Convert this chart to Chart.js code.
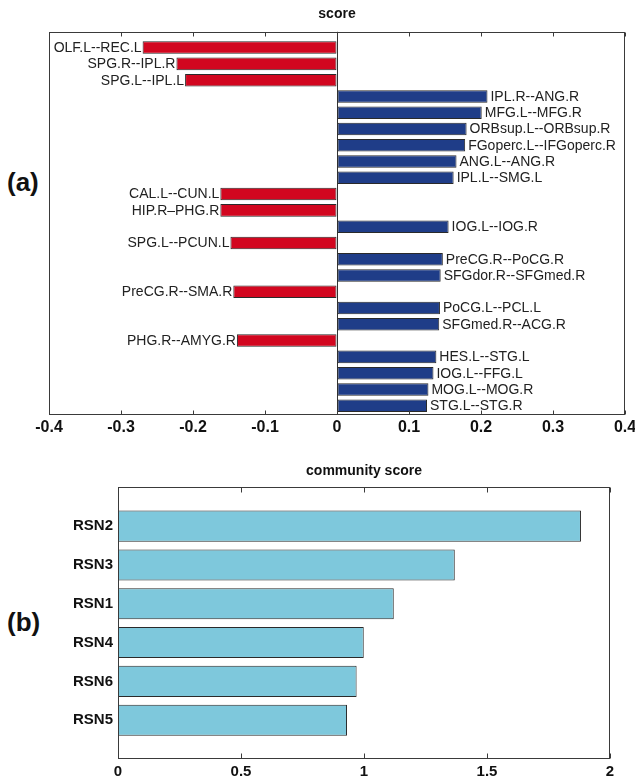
<!DOCTYPE html>
<html>
<head>
<meta charset="utf-8">
<script src="https://cdn.jsdelivr.net/npm/chart.js@4/dist/chart.umd.min.js"></script>
<style>
  html, body { margin: 0; padding: 0; background: #ffffff; }
  body { width: 635px; height: 780px; position: relative; overflow: hidden;
         font-family: 'Liberation Sans', Arial, sans-serif; }
  .panel { position: absolute; font-weight: bold; font-size: 26px; line-height: 26px; color: #111; }
  canvas { position: absolute; left: 0; }
</style>
</head>
<body>
<div class="panel" style="left:7px; top:169px;">(a)</div>
<div class="panel" style="left:7px; top:609px;">(b)</div>
<canvas id="chartA" width="635" height="450" style="top:0px;"></canvas>
<canvas id="chartB" width="635" height="325" style="top:455px;"></canvas>
<script>
// ---- panel (a): connection scores ----
const connections = [
  'OLF.L--REC.L', 'SPG.R--IPL.R', 'SPG.L--IPL.L', 'IPL.R--ANG.R', 'MFG.L--MFG.R',
  'ORBsup.L--ORBsup.R', 'FGoperc.L--IFGoperc.R', 'ANG.L--ANG.R', 'IPL.L--SMG.L',
  'CAL.L--CUN.L', 'HIP.R\u2013PHG.R', 'IOG.L--IOG.R', 'SPG.L--PCUN.L', 'PreCG.R--PoCG.R',
  'SFGdor.R--SFGmed.R', 'PreCG.R--SMA.R', 'PoCG.L--PCL.L', 'SFGmed.R--ACG.R',
  'PHG.R--AMYG.R', 'HES.L--STG.L', 'IOG.L--FFG.L', 'MOG.L--MOG.R', 'STG.L--STG.R'
];
const connectionScores = [
  -0.270, -0.223, -0.211, 0.209, 0.201,
  0.180, 0.178, 0.166, 0.162,
  -0.162, -0.162, 0.155, -0.148, 0.147,
  0.144, -0.144, 0.143, 0.142,
  -0.139, 0.138, 0.134, 0.127, 0.125
];
const scoreTickValues = [-0.4, -0.3, -0.2, -0.1, 0, 0.1, 0.2, 0.3, 0.4];
const scoreTickLabels = ['-0.4', '-0.3', '-0.2', '-0.1', '0', '0.1', '0.2', '0.3', '0.4'];

// ---- panel (b): community scores ----
const communities = ['RSN2', 'RSN3', 'RSN1', 'RSN4', 'RSN6', 'RSN5'];
const communityScores = [1.882, 1.369, 1.121, 0.999, 0.970, 0.931];
const communityTickValues = [0, 0.5, 1, 1.5, 2];
const communityTickLabels = ['0', '0.5', '1', '1.5', '2'];

const NEG_COLOR = '#d2061f';
const POS_COLOR = '#1f3d88';
const RSN_COLOR = '#7ec8dc';
const EDGE = '#2a2a2a';
const SANS = "'Liberation Sans', Arial, sans-serif";

// box frame with inward x ticks on top and bottom edges
const framePlugin = {
  id: 'frame',
  afterDatasetsDraw(chart, args, opts) {
    const { ctx, chartArea: a } = chart;
    const x = chart.scales.x;
    ctx.save();
    ctx.strokeStyle = '#3a3a3a';
    ctx.lineWidth = 1;
    const l = Math.round(a.left) + 0.5, r = Math.round(a.right) - 0.5;
    const t = Math.round(a.top) + 0.5, b = Math.round(a.bottom) - 0.5;
    ctx.strokeRect(l, t, r - l, b - t);
    const len = opts.tickLength || 4;
    ctx.beginPath();
    x.ticks.forEach(tk => {
      const px = Math.round(x.getPixelForValue(tk.value)) + 0.5;
      ctx.moveTo(px, t); ctx.lineTo(px, t + len);
      ctx.moveTo(px, b); ctx.lineTo(px, b - len);
    });
    ctx.stroke();
    ctx.restore();
  }
};

// connection names written at the end of each bar
const barLabelPlugin = {
  id: 'barLabels',
  afterDatasetsDraw(chart) {
    const { ctx } = chart;
    const meta = chart.getDatasetMeta(0);
    ctx.save();
    ctx.font = '14px ' + SANS;
    ctx.fillStyle = '#222';
    ctx.textBaseline = 'middle';
    meta.data.forEach((bar, i) => {
      const v = connectionScores[i];
      if (v < 0) {
        ctx.textAlign = 'right';
        ctx.fillText(connections[i], bar.x - 1, bar.y + 0.5);
      } else {
        ctx.textAlign = 'left';
        ctx.fillText(connections[i], bar.x + 3, bar.y + 0.5);
      }
    });
    ctx.restore();
  }
};

new Chart(document.getElementById('chartA'), {
  type: 'bar',
  data: {
    datasets: [{
      data: connectionScores.map((v, i) => ({ x: v, y: i + 1 })),
      backgroundColor: ctx => (connectionScores[ctx.dataIndex] < 0 ? NEG_COLOR : POS_COLOR),
      borderColor: EDGE,
      borderWidth: 1,
      borderSkipped: false,
      barPercentage: 0.77,
      categoryPercentage: 1
    }]
  },
  options: {
    indexAxis: 'y',
    responsive: false,
    animation: false,
    layout: { padding: { left: 49, right: 10, top: 0, bottom: 0 } },
    plugins: {
      legend: { display: false },
      tooltip: { enabled: false },
      title: {
        display: true, text: 'score', fullSize: false, color: '#111',
        font: { family: SANS, size: 14, weight: 'bold', lineHeight: 1.2 },
        padding: { top: 5.5, bottom: 9.5 }
      },
      frame: { tickLength: 4 }
    },
    scales: {
      x: {
        type: 'linear', min: -0.4, max: 0.4,
        afterBuildTicks: s => { s.ticks = scoreTickValues.map(v => ({ value: v })); },
        afterFit: s => { s.height = 35; s.paddingLeft = 0; s.paddingRight = 0; },
        grid: {
          drawTicks: false,
          color: c => (c.tick && c.tick.value === 0 ? '#333' : 'rgba(0,0,0,0)')
        },
        border: { display: false },
        ticks: {
          padding: 3, color: '#111', maxRotation: 0, autoSkip: false,
          font: { family: SANS, size: 16, weight: 'bold' },
          callback: (v, i) => scoreTickLabels[i]
        }
      },
      y: {
        type: 'linear', reverse: true, min: 0.03, max: 23.57,
        offset: false, display: false,
        grid: { display: false, offset: false }
      }
    }
  },
  plugins: [framePlugin, barLabelPlugin]
});

new Chart(document.getElementById('chartB'), {
  type: 'bar',
  data: {
    datasets: [{
      data: communityScores.map((v, i) => ({ x: v, y: i + 1 })),
      backgroundColor: RSN_COLOR,
      borderColor: EDGE,
      borderWidth: 1,
      borderSkipped: false,
      barPercentage: 0.8,
      categoryPercentage: 1
    }]
  },
  options: {
    indexAxis: 'y',
    responsive: false,
    animation: false,
    layout: { padding: { left: 0, right: 25, top: 0, bottom: 0 } },
    plugins: {
      legend: { display: false },
      tooltip: { enabled: false },
      title: {
        display: true, text: 'community score', fullSize: false, color: '#111',
        font: { family: SANS, size: 14, weight: 'bold', lineHeight: 1.2 },
        padding: { top: 7.5, bottom: 8 }
      },
      frame: { tickLength: 5 }
    },
    scales: {
      x: {
        type: 'linear', min: 0, max: 2,
        afterBuildTicks: s => { s.ticks = communityTickValues.map(v => ({ value: v })); },
        afterFit: s => { s.height = 21; s.paddingLeft = 0; s.paddingRight = 0; },
        grid: { display: false, drawTicks: false },
        border: { display: false },
        ticks: {
          padding: 4, color: '#111', maxRotation: 0, autoSkip: false,
          font: { family: SANS, size: 15, weight: 'bold' },
          callback: (v, i) => communityTickLabels[i]
        }
      },
      y: {
        type: 'linear', reverse: true, min: 0, max: 7, offset: false,
        afterBuildTicks: s => { s.ticks = communities.map((n, i) => ({ value: i + 1 })); },
        afterFit: s => { s.width = 118; },
        grid: { display: false, drawTicks: false, offset: false },
        border: { display: false },
        ticks: {
          padding: 5, color: '#111', autoSkip: false,
          font: { family: SANS, size: 15, weight: 'bold' },
          callback: (v, i) => communities[i]
        }
      }
    }
  },
  plugins: [framePlugin]
});
</script>
</body>
</html>
